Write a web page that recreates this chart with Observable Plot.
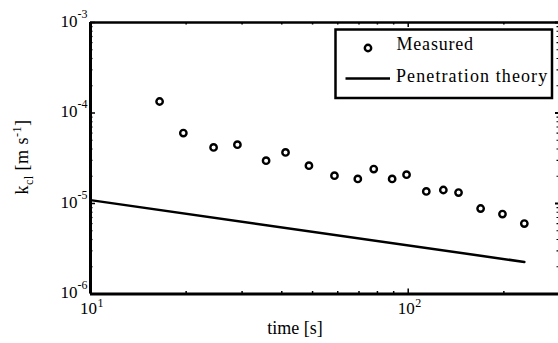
<!DOCTYPE html>
<html><head><meta charset="utf-8">
<script src="https://cdn.jsdelivr.net/npm/d3@7"></script>
<script src="https://cdn.jsdelivr.net/npm/@observablehq/plot@0.6"></script>
<style>
html,body{margin:0;padding:0;background:#fff;overflow:hidden}
#wrap{position:relative;width:558px;height:343px}
#legend{position:absolute;left:0;top:0;pointer-events:none}
</style></head><body><div id="wrap"></div>
<script>
// measured mass-transfer coefficient
const time = [16.5, 19.6, 24.4, 29.0, 35.7, 41.1, 48.7, 58.6, 69.4, 77.9, 89.0, 98.8, 114, 129, 144, 169, 198, 232];
const kMeasured = [1.34e-4, 6.0e-5, 4.17e-5, 4.47e-5, 2.97e-5, 3.67e-5, 2.62e-5, 2.03e-5, 1.87e-5, 2.40e-5, 1.87e-5, 2.08e-5, 1.36e-5, 1.41e-5, 1.32e-5, 8.8e-6, 7.65e-6, 6.0e-6];
// penetration theory line
const timeTheory = [10, 232];
const kTheory = [1.09e-5, 2.26e-6];
// ticks
const xMajor = [10, 100];
const xExp = ["1", "2"];
const xMinor = [20, 30, 40, 50, 60, 70, 80, 90, 200, 300];
const yMajor = [1e-6, 1e-5, 1e-4, 1e-3];
const yExp = ["-6", "-5", "-4", "-3"];
const yMinor = [2e-6, 3e-6, 4e-6, 5e-6, 6e-6, 7e-6, 8e-6, 9e-6,
                2e-5, 3e-5, 4e-5, 5e-5, 6e-5, 7e-5, 8e-5, 9e-5,
                2e-4, 3e-4, 4e-4, 5e-4, 6e-4, 7e-4, 8e-4, 9e-4];
const legendLabels = ["Measured", "Penetration theory"];
const xLabel = "time [s]";
const yLabelParts = ["k", "cl", " [m s", "-1", "]"];

const FONT = "'Liberation Serif','Times New Roman',serif";
const W = 558, H = 343, mL = 90, mR = 0, mT = 22, mB = 49.5;
const fw = W - mL - mR, fh = H - mT - mB;

const measured = time.map((t, i) => ({t, k: kMeasured[i]}));
const theory = timeTheory.map((t, i) => ({t, k: kTheory[i]}));

const svg = Plot.plot({
  width: W, height: H,
  marginLeft: mL, marginRight: mR, marginTop: mT, marginBottom: mB,
  style: {fontFamily: FONT, background: "#fff", color: "#000", overflow: "hidden"},
  x: {type: "log", domain: [10, 300], range: [mL, 559.3], axis: null},
  y: {type: "log", domain: [1e-6, 1e-3], axis: null},
  marks: [
    // inward ticks, bottom/top
    Plot.ruleX(xMajor, {x: d => d, insetTop: fh - 5, strokeWidth: 1.5}),
    Plot.ruleX(xMajor, {x: d => d, insetBottom: fh - 5, strokeWidth: 1.5}),
    Plot.ruleX(xMinor, {x: d => d, insetTop: fh - 2.5, strokeWidth: 1.5}),
    Plot.ruleX(xMinor, {x: d => d, insetBottom: fh - 2.5, strokeWidth: 1.5}),
    // inward ticks, left/right
    Plot.ruleY(yMajor, {y: d => d, insetRight: fw - 5, strokeWidth: 1.5}),
    Plot.ruleY(yMajor, {y: d => d, insetLeft: fw - 3, strokeWidth: 2}),
    Plot.ruleY(yMinor, {y: d => d, insetRight: fw - 2.5, strokeWidth: 1.2}),
    Plot.ruleY(yMinor, {y: d => d, insetLeft: fw - 1.5, strokeWidth: 1.2}),
    // frame lines
    Plot.ruleX([10], {x: d => d, strokeWidth: 3}),
    Plot.ruleY([1e-6], {y: d => d, strokeWidth: 3}),
    Plot.ruleY([1e-3], {y: d => d, strokeWidth: 2.5}),
    // data
    Plot.line(theory, {x: "t", y: "k", stroke: "#000", strokeWidth: 2.5}),
    Plot.dot(measured, {x: "t", y: "k", r: 3.2, stroke: "#000", strokeWidth: 2.4, fill: "none"}),
    // tick labels
    Plot.text(xMajor, {x: d => d, frameAnchor: "bottom", text: () => "10", textAnchor: "end", dx: 6.5, dy: 19.5, fontSize: 17, fontFamily: FONT, fill: "#000"}),
    Plot.text(xMajor, {x: d => d, frameAnchor: "bottom", text: (d, i) => xExp[i], textAnchor: "start", dx: 7, dy: 12.5, fontSize: 12, fontFamily: FONT, fill: "#000"}),
    Plot.text(yMajor, {y: d => d, frameAnchor: "left", text: () => "10", textAnchor: "end", dx: -13, dy: -1, fontSize: 17, fontFamily: FONT, fill: "#000"}),
    Plot.text(yMajor, {y: d => d, frameAnchor: "left", text: (d, i) => yExp[i], textAnchor: "start", dx: -13, dy: -8.5, fontSize: 12, fontFamily: FONT, fill: "#000"}),
    // x axis label
    Plot.text([xLabel], {frameAnchor: "bottom", x: () => 44, text: d => d, dy: 39.5, fontSize: 18, fontFamily: FONT, fill: "#000"})
  ]
});

// y axis label with sub/superscripts
const yl = d3.select(svg).append("text")
  .attr("transform", "translate(28,157) rotate(-90)")
  .attr("text-anchor", "middle")
  .attr("font-family", FONT).attr("font-size", 18).attr("fill", "#000")
  .style("letter-spacing", "0.5px");
yl.append("tspan").text(yLabelParts[0]);
yl.append("tspan").attr("dy", 5).attr("font-size", 12).text(yLabelParts[1]);
yl.append("tspan").attr("dy", -5).text(yLabelParts[2]);
yl.append("tspan").attr("dy", -7).attr("font-size", 12).text(yLabelParts[3]);
yl.append("tspan").attr("dy", 7).text(yLabelParts[4]);

const wrap = document.getElementById("wrap");
wrap.appendChild(svg);

// legend box
const lg = d3.select(wrap).append("svg").attr("id", "legend")
  .attr("width", W).attr("height", H);
lg.append("rect").attr("x", 335.5).attr("y", 29.5).attr("width", 216.5).attr("height", 68.5)
  .attr("fill", "#fff").attr("stroke", "#000").attr("stroke-width", 2.5);
lg.append("circle").attr("cx", 368).attr("cy", 48).attr("r", 3.2)
  .attr("fill", "none").attr("stroke", "#000").attr("stroke-width", 2.4);
lg.append("line").attr("x1", 345.5).attr("x2", 390).attr("y1", 78.5).attr("y2", 78.5)
  .attr("stroke", "#000").attr("stroke-width", 2.5);
lg.selectAll("text.lab").data(legendLabels).join("text").attr("class", "lab")
  .attr("x", (d, i) => i === 0 ? 396.5 : 396)
  .attr("y", (d, i) => i === 0 ? 49.5 : 81.5)
  .attr("font-family", FONT).attr("font-size", 18).attr("fill", "#000")
  .style("letter-spacing", (d, i) => i === 0 ? "0.8px" : "1.1px")
  .text(d => d);
</script></body></html>
